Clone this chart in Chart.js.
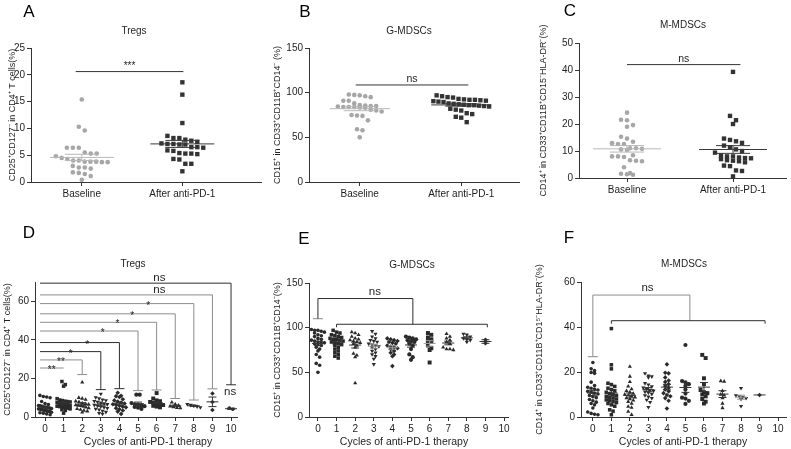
<!DOCTYPE html>
<html>
<head>
<meta charset="utf-8">
<script src="https://cdn.jsdelivr.net/npm/chart.js@4.4.0/dist/chart.umd.min.js"></script>
<style>
html, body { margin: 0; padding: 0; background: #fff; }
#wrap { position: relative; width: 791px; height: 449px; overflow: hidden; }
canvas { position: absolute; }
</style>
</head>
<body>
<div id="wrap"></div>
<script>
// ---- data ----
const pairCategories = ['Baseline', 'After anti-PD-1'];
const cycleCategories = ['0', '1', '2', '3', '4', '5', '6', '7', '8', '9', '10'];

const tregsBaseline = [15.4, 10.3, 9.6, 6.4, 6.4, 6.4, 5.5, 5.3, 5.3, 4.8, 4.5, 4.3, 4.0, 4.0, 3.8, 3.8, 3.8, 3.7, 3.7, 3.0, 2.7, 2.7, 2.5, 1.8, 1.7, 1.5, 1.1, 0.4];
const tregsAfter = [18.6, 16.3, 11.0, 8.6, 8.2, 8.2, 7.9, 7.7, 7.5, 7.2, 7.1, 7.1, 7.0, 7.0, 6.5, 6.5, 6.4, 5.9, 5.8, 5.4, 5.3, 5.3, 5.2, 4.3, 4.2, 3.4, 3.4, 2.0];
const gmdscBaseline = [98, 97.5, 97, 96, 95, 91, 91, 88, 86, 85.5, 85, 85, 84.5, 84, 84, 84, 83.5, 83, 81, 80, 79, 75, 74.5, 74, 69, 59, 58, 50];
const gmdscAfter = [97, 96, 95, 94.5, 93, 92.5, 92, 92, 91.5, 91, 90.5, 90, 89.5, 88, 87.5, 87, 86.5, 86, 86, 85.5, 85, 84.5, 82, 81, 80, 77, 76, 73, 72, 67];
const mmdscBaseline = [24.2, 21.6, 21.4, 19.6, 19.0, 15.3, 14.6, 13.4, 12.9, 12.6, 12.6, 11.0, 11.0, 10.8, 10.6, 10.4, 8.4, 8.0, 8.0, 7.8, 6.6, 6.4, 6.2, 4.0, 1.8, 1.6, 1.4, 1.2];
const mmdscAfter = [39.3, 23.0, 21.4, 20.0, 14.6, 14.1, 13.6, 13.0, 12.0, 11.4, 10.6, 10.0, 9.4, 8.4, 8.0, 8.0, 7.6, 7.4, 7.3, 7.0, 6.6, 6.4, 6.2, 5.8, 4.6, 4.4, 2.8, 2.6, 0.6];

const tregsByCycle = [
  [11.2, 10.6, 10.4, 10.0, 8.0, 7.0, 6.5, 6.0, 5.8, 5.5, 5.2, 5.0, 4.8, 4.6, 4.4, 4.2, 4.0, 3.8, 3.6, 3.4, 3.2, 3.0, 2.8, 2.5, 2.2, 2.0, 1.6, 1.2],
  [18.4, 16.8, 16.0, 9.5, 8.8, 8.5, 8.2, 8.0, 7.8, 7.5, 7.3, 7.1, 7.0, 6.8, 6.6, 6.5, 6.3, 6.0, 5.8, 5.6, 5.4, 5.2, 5.0, 4.6, 4.2, 3.8, 3.4, 2.0],
  [18.0, 10.0, 9.6, 9.0, 8.2, 7.8, 7.2, 6.8, 6.5, 6.2, 6.0, 5.8, 5.4, 5.0, 4.6, 4.2, 3.8, 3.4, 3.0, 2.4],
  [12.0, 10.2, 9.6, 9.0, 8.6, 8.2, 7.8, 7.4, 7.0, 6.6, 6.2, 5.8, 5.4, 5.0, 4.6, 4.2, 3.8, 3.2, 2.6, 2.0, 1.6],
  [12.6, 11.0, 10.8, 10.4, 9.2, 8.6, 8.0, 7.5, 7.0, 6.6, 6.2, 5.8, 5.4, 5.0, 4.6, 4.0, 3.4, 2.8, 1.6],
  [11.6, 11.6, 7.2, 6.6, 6.2, 6.0, 5.6, 5.2, 4.8, 4.2],
  [12.4, 9.6, 8.6, 8.2, 7.8, 7.4, 7.0, 6.6, 6.2, 5.8, 5.4, 5.0],
  [7.6, 6.6, 6.0, 5.6, 5.2, 4.8, 4.6],
  [6.6, 6.2, 5.8, 5.4, 5.0],
  [12.2, 7.8, 3.6],
  [4.6, 4.0]
];
const gmdscByCycle = [
  [98, 97, 97, 96, 95, 94, 92, 91, 90, 88, 87, 86, 85, 84, 84, 83, 82, 81, 80, 78, 76, 74, 70, 67, 60, 58, 50],
  [97, 95, 94, 92, 91, 90, 89, 88, 87, 87, 86, 85, 84, 83, 82, 81, 80, 78, 76, 74, 72, 70, 68, 66],
  [95, 94, 92, 90, 88, 87, 86, 85, 84, 83, 82, 80, 78, 71, 69, 67, 38],
  [96, 93, 90, 88, 86, 85, 84, 82, 81, 80, 79, 78, 76, 74, 72, 70, 68, 65, 59],
  [88, 87, 86, 85, 84, 83, 82, 80, 79, 78, 77, 76, 74, 72, 70, 68, 57],
  [90, 89, 88, 87, 86, 85, 84, 82, 80, 76, 70, 67, 64],
  [94, 92, 89, 87, 85, 84, 80, 77, 75, 61],
  [93, 90, 88, 86, 84, 82, 78, 76, 76, 75],
  [93, 92, 90, 88, 87, 86, 84],
  [86.5, 82.5],
  []
];
const mmdscByCycle = [
  [24.2, 21.4, 20.6, 19.8, 19.4, 15.5, 14.0, 13.2, 12.8, 12.4, 12.0, 11.4, 11.0, 10.6, 10.2, 9.6, 9.0, 8.6, 7.8, 7.2, 6.6, 6.0, 5.4, 4.0, 2.2, 1.6, 1.2, 1.0],
  [39.3, 23.2, 21.4, 15.0, 14.4, 13.6, 12.8, 12.2, 11.6, 11.0, 10.4, 10.0, 9.6, 9.2, 8.8, 8.4, 8.0, 7.6, 7.2, 6.8, 6.4, 6.0, 5.4, 4.8, 3.2, 2.6, 1.0],
  [22.4, 18.0, 15.6, 13.6, 12.4, 11.6, 11.0, 10.4, 10.0, 9.6, 9.2, 8.8, 8.4, 8.0, 7.4, 6.8, 6.0, 4.6, 4.2, 2.4, 1.0],
  [19.4, 18.4, 18.0, 17.6, 15.0, 14.4, 13.6, 13.0, 12.4, 12.0, 11.6, 11.2, 10.8, 10.2, 9.6, 9.0, 8.4, 7.6, 6.6, 4.4],
  [23.4, 19.7, 19.4, 17.6, 16.2, 15.6, 14.6, 13.8, 13.0, 12.2, 11.4, 10.6, 9.8, 9.2, 8.4, 7.2, 3.8],
  [32.0, 16.0, 15.4, 14.6, 13.8, 12.2, 10.4, 8.6, 8.2, 7.2, 5.8],
  [27.6, 26.2, 17.2, 14.6, 12.0, 11.0, 10.6, 10.0, 9.2, 8.0, 6.8, 6.0],
  [16.0, 15.8, 11.6, 10.0, 9.6, 8.4, 6.0, 4.0],
  [12.8, 9.6, 9.2, 8.8, 8.4, 8.0, 4.8],
  [9.8],
  []
];

// significance brackets, panel D (cycle 0 vs cycle k)
const tregsBracketTo = [1, 2, 3, 4, 5, 6, 7, 8, 9, 10];
const tregsBracketLevel = [25.4, 29.6, 33.9, 38.6, 44.6, 49.1, 53.5, 58.8, 63.3, 69.4];
const tregsBracketCap = [25.4, 22.0, 14.2, 14.7, 13.7, 14.0, 9.6, 8.8, 14.6, 16.7];
const tregsBracketMark = ['**', '**', '*', '*', '*', '*', '*', '*', 'ns', 'ns'];
const tregsBracketMarkAt = [0.36, 0.86, 1.38, 2.27, 3.1, 3.89, 4.68, 5.54, 6.15, 6.15];

// panel E / F brackets: cycle 0 vs cycles 1-9
const gmdscBracket = { cap: 110, upper: 132.6, lower: 103.8, mid: 5.1, from: 1.0, to: 9.1, markAt: 3.06 };
const mmdscBracket = { cap: 26.8, upper: 54.2, lower: 42.8, mid: 5.24, from: 1.0, to: 9.3, markAt: 2.95 };

// ---- styling ----
const FONT = '"Liberation Sans", Arial, sans-serif';
const AXIS = '#333';
const INK = '#1e1e1e';
const GREY_LINE = '#8c8c8c';
const cycleShapes = ['circle', 'rect', 'triangle', 'triangle', 'rectRot', 'circle', 'rect', 'triangle', 'triangle', 'rectRot', 'circle'];
const cycleRot = [0, 0, 0, 180, 0, 0, 0, 0, 180, 0, 0];
const cycleRadius = [1.8, 2.5, 2.4, 2.4, 2.3, 2.1, 2.8, 2.4, 2.4, 2.3, 1.8];

function meanSem(vals) {
  const n = vals.length;
  if (!n) return null;
  const m = vals.reduce((a, b) => a + b, 0) / n;
  if (n < 2) return { m, s: 0 };
  const v = vals.reduce((a, b) => a + (b - m) * (b - m), 0) / (n - 1);
  return { m, s: Math.sqrt(v / n) };
}

// spread points of equal height sideways, Prism style, within maxHalf px
function swarmOffsets(vals, pxY, pxX, d, maxHalf) {
  const idx = vals.map((v, i) => i).sort((a, b) => vals[b] - vals[a]);
  const out = new Array(vals.length).fill(0);
  let i = 0;
  while (i < idx.length) {
    let j = i;
    const top = vals[idx[i]];
    while (j < idx.length && (top - vals[idx[j]]) * pxY < d) j++;
    const n = j - i;
    const step = n > 1 ? Math.min(d, 2 * maxHalf / (n - 1)) : 0;
    for (let k = 0; k < n; k++) out[idx[i + k]] = (k - (n - 1) / 2) * step / pxX;
    i = j;
  }
  return out;
}

function seg(ctx, x1, y1, x2, y2, color) {
  ctx.strokeStyle = color;
  ctx.lineWidth = 1;
  ctx.beginPath();
  ctx.moveTo(x1, y1);
  ctx.lineTo(x2, y2);
  ctx.stroke();
}

function text(ctx, str, x, y, size, color) {
  ctx.font = size + 'px ' + FONT;
  ctx.fillStyle = color || INK;
  ctx.textAlign = 'center';
  ctx.textBaseline = 'alphabetic';
  ctx.fillText(str, x, y);
}

function pairAnnot(span, level, mark, size) {
  return (ctx, xs, ys) => {
    const y = ys.getPixelForValue(level);
    const x1 = xs.getPixelForValue(span[0]), x2 = xs.getPixelForValue(span[1]);
    seg(ctx, x1, y, x2, y, AXIS);
    text(ctx, mark, (x1 + x2) / 2, y - 3, size);
  };
}

function tregsAnnot(ctx, xs, ys) {
  const cap = 5;
  const greys = [1, 1, 0, 0, 1, 1, 1, 1, 1, 0];
  tregsBracketTo.forEach((k, i) => {
    const col = greys[i] ? GREY_LINE : '#2e2e2e';
    const y = ys.getPixelForValue(tregsBracketLevel[i]);
    const yc = ys.getPixelForValue(tregsBracketCap[i]);
    const x0 = xs.getPixelForValue(-0.27), xk = xs.getPixelForValue(k);
    seg(ctx, x0, y, xk, y, col);
    if (yc > y + 1) {
      seg(ctx, xk, y, xk, yc, col);
      seg(ctx, xk - cap, yc, xk + cap, yc, col);
    }
    const mk = tregsBracketMark[i];
    const mx = xs.getPixelForValue(tregsBracketMarkAt[i]);
    if (mk === 'ns') text(ctx, mk, mx, y - 2, 11.5);
    else text(ctx, mk, mx, y + 5, 10);
  });
  text(ctx, 'ns', xs.getPixelForValue(9.95), ys.getPixelForValue(11.2), 11.5);
}

function groupAnnot(b, capCol, upperCol, lowerCol) {
  return (ctx, xs, ys) => {
    const cap = 5;
    const x0 = xs.getPixelForValue(0), xm = xs.getPixelForValue(b.mid);
    const xa = xs.getPixelForValue(b.from), xb = xs.getPixelForValue(b.to);
    const yc = ys.getPixelForValue(b.cap), yu = ys.getPixelForValue(b.upper), yl = ys.getPixelForValue(b.lower);
    seg(ctx, x0 - cap, yc, x0 + cap, yc, capCol);
    seg(ctx, x0, yc, x0, yu, upperCol);
    seg(ctx, x0, yu, xm, yu, upperCol);
    seg(ctx, xm, yu, xm, yl, upperCol);
    seg(ctx, xa, yl, xb, yl, lowerCol);
    seg(ctx, xa, yl, xa, yl + 3, lowerCol);
    seg(ctx, xb, yl, xb, yl + 3, lowerCol);
    text(ctx, 'ns', xs.getPixelForValue(b.markAt), yu - 4, 11.5);
  };
}

function pairGroups(base, after) {
  return [
    { values: base, shape: 'circle', rot: 0, r: 2.3, color: '#a6a6a6', meanColor: '#b8b8b8' },
    { values: after, shape: 'rect', rot: 0, r: 3.1, color: '#333', meanColor: '#3a3a3a' }
  ];
}

function cycleGroups(list, meanCols) {
  return list.map((vals, i) => ({
    values: vals, shape: cycleShapes[i], rot: cycleRot[i], r: cycleRadius[i],
    color: '#2a2a2a', meanColor: meanCols[i]
  }));
}

const dk = '#333', lt = '#9a9a9a';
const panels = [
  {
    id: 'A', box: { x: 0, y: 0, w: 265, h: 200 }, area: { l: 31, t: 48, r: 262, b: 182 },
    xMin: -0.505, xMax: 1.782, yMax: 25, yStep: 5, xLabels: pairCategories,
    letterAt: [29, 12], title: 'Tregs', titleAt: [134, 34], yTitleX: 13,
    yTitle: 'CD25⁺CD127⁻ in CD4⁺ T cells(%)',
    groups: pairGroups(tregsBaseline, tregsAfter), swarm: 6, swarmHalf: 26, meanHalf: 32, capHalf: 17,
    annotate: pairAnnot([-0.06, 1.01], 20.6, '***', 10)
  },
  {
    id: 'B', box: { x: 265, y: 0, w: 258, h: 200 }, area: { l: 309, t: 48, r: 520, b: 182 },
    xMin: -0.5, xMax: 1.569, yMax: 150, yStep: 50, xLabels: pairCategories,
    letterAt: [305, 12], title: 'G-MDSCs', titleAt: [409, 34], yTitleX: 278,
    yTitle: 'CD15⁺ in CD33⁺CD11B⁺CD14⁻ (%)',
    groups: pairGroups(gmdscBaseline, gmdscAfter), swarm: 5.5, swarmHalf: 28, meanHalf: 30, capHalf: 16,
    annotate: pairAnnot([-0.04, 1.07], 108.6, 'ns', 10.5)
  },
  {
    id: 'C', box: { x: 528, y: 0, w: 263, h: 215 }, area: { l: 579, t: 43, r: 786, b: 178 },
    xMin: -0.453, xMax: 1.5, yMax: 50, yStep: 10, xLabels: pairCategories,
    letterAt: [570, 11], title: 'M-MDSCs', titleAt: [683, 28], yTitleX: 544,
    yTitle: 'CD14⁺ in CD33⁺CD11B⁺CD15⁻HLA-DR⁻(%)',
    groups: pairGroups(mmdscBaseline, mmdscAfter), swarm: 6, swarmHalf: 20, meanHalf: 34, capHalf: 17,
    annotate: pairAnnot([0, 1.07], 42.0, 'ns', 10.5)
  },
  {
    id: 'D', box: { x: 0, y: 220, w: 262, h: 229 }, area: { l: 35, t: 282, r: 237, b: 417 },
    xMin: -0.538, xMax: 10.32, yMax: 70, yStep: 20, xLabels: cycleCategories,
    letterAt: [29, 233], title: 'Tregs', titleAt: [133, 267], yTitleX: 8,
    yTitle: 'CD25⁺CD127⁻ in CD4⁺ T cells(%)', xTitle: 'Cycles of anti-PD-1 therapy', xTitleAt: [148, 445],
    groups: cycleGroups(tregsByCycle, [dk, dk, dk, dk, dk, dk, dk, dk, dk, dk, dk]),
    swarm: 3.4, swarmHalf: 6.5, meanHalf: 6, capHalf: 4, annotate: tregsAnnot
  },
  {
    id: 'E', box: { x: 265, y: 220, w: 258, h: 229 }, area: { l: 309, t: 283, r: 508, b: 417 },
    xMin: -0.48, xMax: 10.21, yMax: 150, yStep: 50, xLabels: cycleCategories,
    letterAt: [304, 239], title: 'G-MDSCs', titleAt: [412, 268], yTitleX: 278,
    yTitle: 'CD15⁺ in CD33⁺CD11B⁺CD14⁻(%)', xTitle: 'Cycles of anti-PD-1 therapy', xTitleAt: [404, 445],
    groups: cycleGroups(gmdscByCycle, [dk, dk, dk, lt, lt, dk, lt, dk, dk, dk, dk]),
    swarm: 3.4, swarmHalf: 6.5, meanHalf: 6, capHalf: 4, annotate: groupAnnot(gmdscBracket, GREY_LINE, '#2e2e2e', '#2e2e2e')
  },
  {
    id: 'F', box: { x: 528, y: 220, w: 263, h: 229 }, area: { l: 581, t: 282, r: 786, b: 417 },
    xMin: -0.64, xMax: 10.43, yMax: 60, yStep: 20, xLabels: cycleCategories,
    letterAt: [569, 238], title: 'M-MDSCs', titleAt: [684, 267], yTitleX: 540,
    yTitle: 'CD14⁺ in CD33⁺CD11B⁺CD1⁵⁻HLA-DR⁻(%)', xTitle: 'Cycles of anti-PD-1 therapy', xTitleAt: [683, 445],
    groups: cycleGroups(mmdscByCycle, [dk, dk, dk, dk, dk, dk, dk, dk, lt, dk, dk]),
    swarm: 3.4, swarmHalf: 6.5, meanHalf: 6, capHalf: 4, annotate: groupAnnot(mmdscBracket, GREY_LINE, GREY_LINE, '#2e2e2e')
  }
];

function extrasPlugin(p) {
  return {
    id: 'extras' + p.id,
    afterDatasetsDraw(chart) {
      const ctx = chart.ctx, xs = chart.scales.x, ys = chart.scales.y;
      ctx.save();
      ctx.font = '17px ' + FONT;
      ctx.fillStyle = '#000';
      ctx.textAlign = 'center';
      ctx.textBaseline = 'middle';
      ctx.fillText(p.id, p.letterAt[0] - p.box.x, p.letterAt[1] - p.box.y);
      text(ctx, p.title, p.titleAt[0] - p.box.x, p.titleAt[1] - p.box.y, 10);
      if (p.xTitle) text(ctx, p.xTitle, p.xTitleAt[0] - p.box.x, p.xTitleAt[1] - p.box.y, 10.5);
      p.groups.forEach((g, i) => {
        const st = meanSem(g.values);
        if (!st) return;
        const xc = xs.getPixelForValue(i);
        const ym = ys.getPixelForValue(st.m);
        seg(ctx, xc - p.meanHalf, ym, xc + p.meanHalf, ym, g.meanColor);
        if (st.s > 0) {
          const yh = ys.getPixelForValue(st.m + st.s), yl = ys.getPixelForValue(st.m - st.s);
          seg(ctx, xc, yh, xc, yl, g.meanColor);
          seg(ctx, xc - p.capHalf, yh, xc + p.capHalf, yh, g.meanColor);
          seg(ctx, xc - p.capHalf, yl, xc + p.capHalf, yl, g.meanColor);
        }
      });
      p.annotate(ctx, xs, ys);
      ctx.restore();
    }
  };
}

function axisCommon() {
  return {
    grid: { drawOnChartArea: false, drawTicks: true, tickLength: 4, color: AXIS, lineWidth: 1 },
    border: { display: true, color: AXIS, width: 1 }
  };
}

const wrap = document.getElementById('wrap');
panels.forEach(p => {
  const cv = document.createElement('canvas');
  cv.width = p.box.w;
  cv.height = p.box.h;
  cv.style.left = p.box.x + 'px';
  cv.style.top = p.box.y + 'px';
  cv.style.width = p.box.w + 'px';
  cv.style.height = p.box.h + 'px';
  wrap.appendChild(cv);

  const pxY = (p.area.b - p.area.t) / p.yMax;
  const pxX = (p.area.r - p.area.l) / (p.xMax - p.xMin);
  const datasets = p.groups.map((g, i) => {
    const off = swarmOffsets(g.values, pxY, pxX, p.swarm, p.swarmHalf);
    return {
      data: g.values.map((v, k) => ({ x: i + off[k], y: v })),
      pointStyle: g.shape,
      rotation: g.rot,
      pointRadius: g.r,
      pointBackgroundColor: g.color,
      pointBorderColor: g.color,
      pointBorderWidth: 0,
      clip: false
    };
  });

  new Chart(cv, {
    type: 'scatter',
    data: { datasets },
    options: {
      responsive: false,
      animation: false,
      events: [],
      layout: { padding: { left: 0, top: p.area.t - p.box.y, right: p.box.x + p.box.w - p.area.r, bottom: 0 } },
      plugins: { legend: { display: false }, tooltip: { enabled: false } },
      scales: {
        x: Object.assign(axisCommon(), {
          type: 'linear', min: p.xMin, max: p.xMax,
          ticks: { color: INK, font: { family: FONT, size: 10 }, padding: 2, autoSkip: false, maxRotation: 0,
                   callback: v => p.xLabels[v] },
          afterBuildTicks: s => { s.ticks = p.xLabels.map((_, i) => ({ value: i })); },
          afterFit: s => { s.height = p.box.y + p.box.h - p.area.b; }
        }),
        y: Object.assign(axisCommon(), {
          type: 'linear', min: 0, max: p.yMax,
          ticks: { stepSize: p.yStep, color: INK, font: { family: FONT, size: 10 }, padding: 2 },
          afterBuildTicks: s => { s.ticks = s.ticks.filter(t => Math.abs(t.value / p.yStep - Math.round(t.value / p.yStep)) < 1e-6); },
          title: { display: true, text: p.yTitle, color: INK, font: { family: FONT, size: 9 },
                   padding: { top: p.yTitleX - p.box.x - 5.4, bottom: 0 } },
          afterFit: s => { s.width = p.area.l - p.box.x; }
        })
      }
    },
    plugins: [extrasPlugin(p)]
  });
});
</script>
</body>
</html>
